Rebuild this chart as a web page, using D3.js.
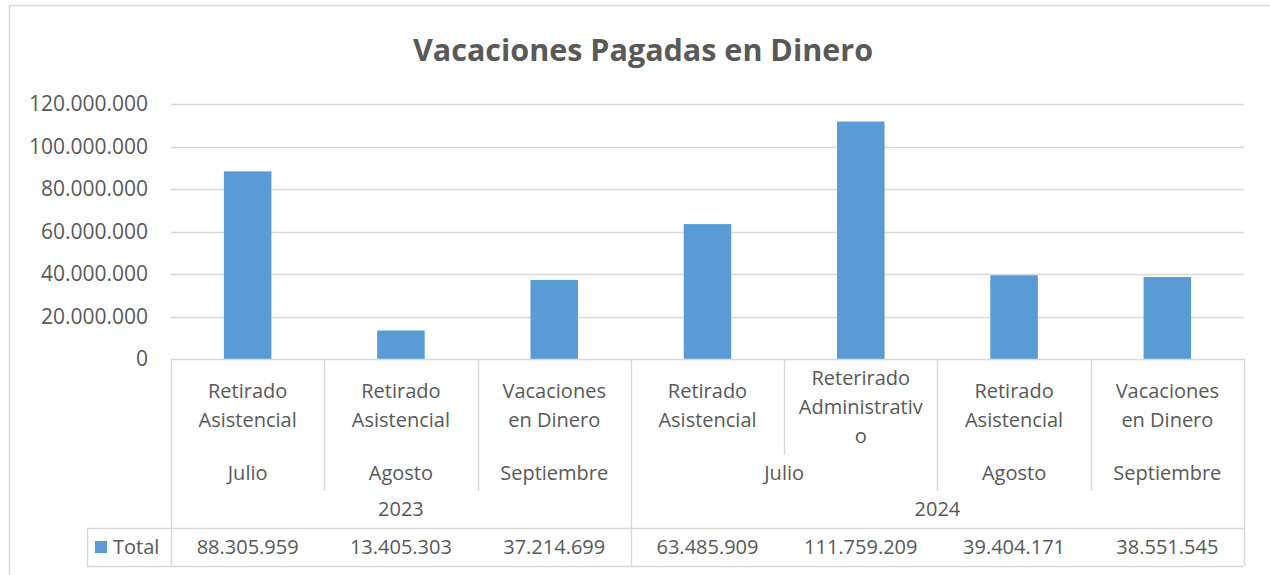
<!DOCTYPE html>
<html>
<head>
<meta charset="utf-8">
<script src="https://cdn.jsdelivr.net/npm/d3@7"></script>
<style>
  body { margin: 0; background: #fff; }
  text { font-family: "Open Sans", "Noto Sans", sans-serif; fill: #595959; }
</style>
</head>
<body>
<div id="chart"></div>
<script>
// data
var categories = [
  ["Retirado", "Asistencial"],
  ["Retirado", "Asistencial"],
  ["Vacaciones", "en Dinero"],
  ["Retirado", "Asistencial"],
  ["Reterirado", "Administrativ", "o"],
  ["Retirado", "Asistencial"],
  ["Vacaciones", "en Dinero"]
];
var months = ["Julio", "Agosto", "Septiembre", "Julio", "Julio", "Agosto", "Septiembre"];
var years = ["2023", "2023", "2023", "2024", "2024", "2024", "2024"];
var values = [88305959, 13405303, 37214699, 63485909, 111759209, 39404171, 38551545];
var yTicks = [0, 20000000, 40000000, 60000000, 80000000, 100000000, 120000000];

var W = 1270, H = 575;
var plotLeft = 171, plotRight = 1244, plotTop = 104, axisY = 359;
var gridColor = "#d9d9d9", barColor = "#5b9bd5";

var loc = d3.formatLocale({ decimal: ",", thousands: ".", grouping: [3], currency: ["$", ""] });
var fmt = loc.format(",.0f");

var svg = d3.select("#chart").append("svg")
  .attr("width", W)
  .attr("height", H);

// outer chart border
svg.append("rect")
  .attr("x", 9.5).attr("y", 5.5)
  .attr("width", 1300).attr("height", 700)
  .attr("fill", "none").attr("stroke", gridColor).attr("stroke-width", 1.5);

svg.append("text")
  .attr("x", 643).attr("y", 61)
  .attr("text-anchor", "middle")
  .style("font-size", "30.5px").style("font-weight", "bold")
  .text("Vacaciones Pagadas en Dinero");

var idx = d3.range(values.length);
var x = d3.scaleBand().domain(idx).range([plotLeft, plotRight]).padding(0);
var y = d3.scaleLinear().domain([0, 120000000]).range([axisY, plotTop]);

// gridlines + y labels
svg.append("g").selectAll("line")
  .data(yTicks.filter(function (d) { return d > 0; }))
  .enter().append("line")
  .attr("x1", plotLeft).attr("x2", plotRight)
  .attr("y1", function (d) { return Math.round(y(d)) + 0.5; })
  .attr("y2", function (d) { return Math.round(y(d)) + 0.5; })
  .attr("stroke", gridColor).attr("stroke-width", 1.5);

svg.append("g").selectAll("text")
  .data(yTicks)
  .enter().append("text")
  .attr("x", 148)
  .attr("y", function (d) { return y(d) + 7; })
  .attr("text-anchor", "end")
  .style("font-size", "21px")
  .text(function (d) { return fmt(d); });

// bars
var bw = x.bandwidth() * 0.31;
svg.append("g").selectAll("rect")
  .data(values)
  .enter().append("rect")
  .attr("x", function (d, i) { return x(i) + (x.bandwidth() - bw) / 2; })
  .attr("y", function (d) { return y(d); })
  .attr("width", bw)
  .attr("height", function (d) { return axisY - y(d); })
  .attr("fill", barColor);

// category table
var rowMonthBottom = 491, rowYearBottom = 528, rowTotalBottom = 566, legendLeft = 87;
var table = svg.append("g")
  .attr("stroke", gridColor).attr("stroke-width", 1.5);

table.append("line")
  .attr("x1", plotLeft).attr("x2", plotRight)
  .attr("y1", axisY + 0.5).attr("y2", axisY + 0.5);
table.append("line")
  .attr("x1", legendLeft).attr("x2", plotRight)
  .attr("y1", rowYearBottom + 0.5).attr("y2", rowYearBottom + 0.5);
table.append("line")
  .attr("x1", legendLeft).attr("x2", plotRight)
  .attr("y1", rowTotalBottom + 0.5).attr("y2", rowTotalBottom + 0.5);
table.append("line")
  .attr("x1", legendLeft + 0.5).attr("x2", legendLeft + 0.5)
  .attr("y1", rowYearBottom).attr("y2", rowTotalBottom);

// vertical dividers: length depends on what changes between neighbours
d3.range(values.length + 1).forEach(function (i) {
  var xx = Math.round(i < values.length ? x(i) : plotRight) + 0.5;
  var bottom;
  if (i === 0 || i === values.length || years[i] !== years[i - 1]) bottom = rowTotalBottom;
  else if (months[i] !== months[i - 1]) bottom = rowMonthBottom;
  else bottom = 455;
  table.append("line")
    .attr("x1", xx).attr("x2", xx)
    .attr("y1", axisY).attr("y2", bottom);
});

var labelSize = "20px";
var catG = svg.append("g");
categories.forEach(function (lines, i) {
  var cx = x(i) + x.bandwidth() / 2;
  var y0 = lines.length === 3 ? 385 : 398;
  lines.forEach(function (t, k) {
    catG.append("text")
      .attr("x", cx).attr("y", y0 + k * 29)
      .attr("text-anchor", "middle")
      .style("font-size", labelSize)
      .text(t);
  });
});

// month groups and year groups
function groups(keys) {
  var out = [];
  keys.forEach(function (k, i) {
    var key = years[i] + "|" + k;
    if (out.length && out[out.length - 1].key === key) out[out.length - 1].end = i;
    else out.push({ key: key, label: k, start: i, end: i });
  });
  return out;
}

svg.append("g").selectAll("text")
  .data(groups(months))
  .enter().append("text")
  .attr("x", function (g) { return (x(g.start) + x(g.end) + x.bandwidth()) / 2; })
  .attr("y", 480)
  .attr("text-anchor", "middle")
  .style("font-size", labelSize)
  .text(function (g) { return g.label; });

svg.append("g").selectAll("text")
  .data(groups(years))
  .enter().append("text")
  .attr("x", function (g) { return (x(g.start) + x(g.end) + x.bandwidth()) / 2; })
  .attr("y", 516)
  .attr("text-anchor", "middle")
  .style("font-size", labelSize)
  .text(function (g) { return g.label; });

// data table row
svg.append("g").selectAll("text")
  .data(values)
  .enter().append("text")
  .attr("x", function (d, i) { return x(i) + x.bandwidth() / 2; })
  .attr("y", 554)
  .attr("text-anchor", "middle")
  .style("font-size", labelSize)
  .text(function (d) { return fmt(d); });

svg.append("rect")
  .attr("x", 95).attr("y", 541)
  .attr("width", 12).attr("height", 12)
  .attr("fill", barColor);
svg.append("text")
  .attr("x", 113).attr("y", 554)
  .style("font-size", labelSize)
  .text("Total");
</script>
</body>
</html>
